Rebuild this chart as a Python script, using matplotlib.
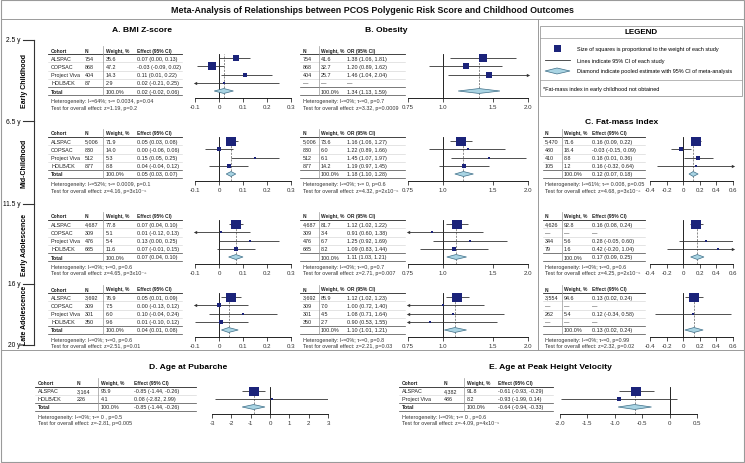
import matplotlib
matplotlib.use("Agg")
import matplotlib.pyplot as plt
import matplotlib.transforms as mtransforms
from matplotlib.patches import Rectangle, Polygon
from matplotlib.ticker import NullLocator
import numpy as np

plt.rcParams["font.family"] = ["Liberation Sans", "DejaVu Sans"]

W, H = 745, 464
ROW = 8.2
SQ = "#1b237a"
DIA_FC = "#a9d4e3"
DIA_EC = "#3f6f88"
TXT = "#222222"

# ---------------- data ----------------
cohorts = ["ALSPAC", "COPSAC", "Project Viva", "HOLBÆK"]
periods = ["Early Childhood", "Mid-Childhood", "Early Adolescence", "Late Adolescence"]
age_marks = ["2.5 y", "6.5 y", "11.5 y", "16 y", "20 y"]

# A. BMI z-score (rows = period, cols = cohort)
bmi_n = [["754", "868", "404", "87"],
         ["5,006", "830", "512", "877"],
         ["4,687", "309", "476", "685"],
         ["3,692", "309", "301", "350"]]
bmi_w = [[35.6, 47.2, 14.3, 2.9], [71.9, 14.0, 5.3, 8.8],
         [77.8, 5.1, 5.4, 11.6], [76.9, 7.5, 6.0, 9.6]]
bmi_est = [[0.07, -0.03, 0.11, 0.02], [0.05, 0.00, 0.15, 0.04],
           [0.07, 0.01, 0.13, 0.07], [0.05, 0.00, 0.10, 0.01]]
bmi_lo = [[0.00, -0.09, 0.01, -0.21], [0.03, -0.06, 0.05, -0.04],
          [0.04, -0.12, 0.00, -0.01], [0.01, -0.13, -0.04, -0.10]]
bmi_hi = [[0.13, 0.02, 0.22, 0.25], [0.08, 0.06, 0.25, 0.12],
          [0.10, 0.13, 0.25, 0.15], [0.09, 0.12, 0.24, 0.12]]
bmi_total = [[0.02, -0.02, 0.06], [0.05, 0.03, 0.07], [0.07, 0.04, 0.10], [0.04, 0.01, 0.08]]
bmi_het = ["Heterogeneity: I²=64%; τ²= 0.0034, p=0.04",
           "Heterogeneity: I²=52%; τ²= 0.0009, p=0.1",
           "Heterogeneity: I²=0%; τ²=0, p=0.6",
           "Heterogeneity: I²=0%; τ²=0, p=0.6"]
bmi_test = ["Test for overall effect: z=1.19, p=0.2",
            "Test for overall effect: z=4.16, p=3x10⁻⁵",
            "Test for overall effect: z=4.65, p=3x10⁻⁶",
            "Test for overall effect: z=2.51, p=0.01"]
bmi_ticks = [-0.1, 0, 0.1, 0.2, 0.3]
bmi_ticklabels = ["-0.1", "0", "0.1", "0.2", "0.3"]

# B. Obesity (odds ratios)
ob_n = [["754", "868", "404", None],
        ["5,006", "830", "512", "877"],
        ["4,687", "309", "476", "685"],
        ["3,692", "309", "301", "350"]]
ob_w = [[41.6, 32.7, 25.7, None], [73.6, 6.0, 6.1, 14.2],
        [81.7, 3.4, 6.7, 8.2], [85.9, 7.0, 4.5, 2.7]]
ob_est = [[1.38, 1.20, 1.46, None], [1.16, 1.22, 1.45, 1.19],
          [1.12, 0.91, 1.25, 1.09], [1.12, 1.00, 1.08, 0.90]]
ob_lo = [[1.06, 0.89, 1.04, None], [1.06, 0.89, 1.07, 0.97],
         [1.02, 0.60, 0.92, 0.83], [1.02, 0.72, 0.71, 0.53]]
ob_hi = [[1.81, 1.62, 2.04, None], [1.27, 1.66, 1.97, 1.45],
         [1.22, 1.38, 1.69, 1.44], [1.23, 1.40, 1.64, 1.55]]
ob_total = [[1.34, 1.13, 1.59], [1.18, 1.10, 1.28], [1.11, 1.03, 1.21], [1.10, 1.01, 1.21]]
ob_het = ["Heterogeneity: I²=0%; τ²=0, p=0.7",
          "Heterogeneity: I²=0%; τ²= 0, p=0.6",
          "Heterogeneity: I²=0%; τ²=0, p=0.7",
          "Heterogeneity: I²=0%; τ²=0, p=0.8"]
ob_test = ["Test for overall effect: z=3.32, p=0.0009",
           "Test for overall effect: z=4.32, p=2x10⁻⁵",
           "Test for overall effect: z=2.71, p=0.007",
           "Test for overall effect: z=2.21, p=0.03"]
ob_ticks = [0.75, 1.0, 1.5, 2.0]
ob_ticklabels = ["0.75", "1.0", "1.5", "2.0"]

# C. Fat-mass index (mid-childhood onwards)
fm_n = [["5,470", "480", "410", "105"],
        ["4,626", None, "344", "79"],
        ["3,554", None, "262", None]]
fm_w = [[71.6, 18.4, 8.8, 1.2], [92.8, None, 5.6, 1.6], [94.6, None, 5.4, None]]
fm_est = [[0.16, -0.03, 0.18, 0.16], [0.16, None, 0.28, 0.42], [0.13, None, 0.12, None]]
fm_lo = [[0.09, -0.15, 0.01, -0.32], [0.08, None, -0.05, -0.20], [0.02, None, -0.34, None]]
fm_hi = [[0.22, 0.09, 0.36, 0.64], [0.24, None, 0.60, 1.04], [0.24, None, 0.58, None]]
fm_total = [[0.12, 0.07, 0.18], [0.17, 0.09, 0.25], [0.13, 0.02, 0.24]]
fm_het = ["Heterogeneity: I²=61%; τ²= 0.008, p=0.05",
          "Heterogeneity: I²=0%; τ²=0, p=0.6",
          "Heterogeneity: I²=0%; τ²=0, p=0.99"]
fm_test = ["Test for overall effect: z=4.68, p=3x10⁻⁶",
           "Test for overall effect: z=4.25, p=2x10⁻⁵",
           "Test for overall effect: z=2.32, p=0.02"]
fm_ticks = [-0.4, -0.2, 0, 0.2, 0.4, 0.6]
fm_ticklabels = ["-0.4", "-0.2", "0", "0.2", "0.4", "0.6"]

# D. Age at pubarche
pub_cohorts = ["ALSPAC", "HOLBÆK"]
pub_n = ["3,164", "226"]
pub_w = [95.9, 4.1]
pub_est = [-0.85, 0.08]
pub_lo = [-1.44, -2.82]
pub_hi = [-0.26, 2.99]
pub_total = [-0.85, -1.44, -0.26]
pub_het = "Heterogeneity: I²=0%; τ²= 0 , p=0.5"
pub_test = "Test for overall effect: z=-2.81, p=0.005"
pub_ticks = [-3, -2, -1, 0, 1, 2, 3]
pub_ticklabels = ["-3", "-2", "-1", "0", "1", "2", "3"]

# E. Age at peak height velocity
phv_cohorts = ["ALSPAC", "Project Viva"]
phv_n = ["4,382", "486"]
phv_w = [91.8, 8.2]
phv_est = [-0.61, -0.93]
phv_lo = [-0.93, -1.99]
phv_hi = [-0.29, 0.14]
phv_total = [-0.64, -0.94, -0.33]
phv_het = "Heterogeneity: I²=0%; τ²= 0 , p=0.6"
phv_test = "Test for overall effect: z=-4.09, p=4x10⁻⁵"
phv_ticks = [-2.0, -1.5, -1.0, -0.5, 0, 0.5]
phv_ticklabels = ["-2.0", "-1.5", "-1.0", "-0.5", "0", "0.5"]


fig = plt.figure(figsize=(W / 100, H / 100), dpi=100)
bg = fig.add_axes([0, 0, 1, 1])
bg.set_xlim(0, W)
bg.set_ylim(H, 0)
bg.axis("off")


def px_axes(x0, x1, top, bottom):
    return fig.add_axes([x0 / W, 1 - bottom / H, (x1 - x0) / W, (bottom - top) / H])


def ci_text(e, l, h):
    return f"{e:.2f} ({l:.2f}, {h:.2f})"


def forest(x0, x1, total_y, xlim, ticks, ticklabels, null, est, lo, hi, wt, total, log=False):
    n = len(est)
    ax = px_axes(x0, x1, total_y - (n + 0.5) * ROW, total_y + 6.5)
    if log:
        ax.set_xscale("log")
    ax.set_xlim(xlim)
    ax.set_ylim(n + 1 + 6.5 / ROW, 0.5)
    ax.patch.set_alpha(0)
    for i in range(n):
        if est[i] is None:
            continue
        y = i + 1
        a, b = max(lo[i], xlim[0]), min(hi[i], xlim[1])
        ax.plot([a, b], [y, y], color="#333333", lw=0.6, solid_capstyle="butt")
        if lo[i] < xlim[0]:
            ax.plot(xlim[0], y, marker="<", ms=2.4, color="#333333", mew=0, clip_on=False)
        if hi[i] > xlim[1]:
            ax.plot(xlim[1], y, marker=">", ms=2.4, color="#333333", mew=0, clip_on=False)
        ax.plot(est[i], y, marker="s", ms=max(1.6, 0.8 * np.sqrt(wt[i])),
                color=SQ, mew=0, zorder=3)
    t, tl, th = total
    yd = n + 1
    ax.fill([tl, t, th, t], [yd, yd - 0.3, yd, yd + 0.3], fc=DIA_FC, ec=DIA_EC, lw=0.5, zorder=3)
    ax.axvline(null, color="black", lw=0.6, zorder=1)
    ax.axvline(t, color="#777777", lw=0.6, ls=(0, (2.5, 1.5)), zorder=1)
    for s in ("top", "right", "left"):
        ax.spines[s].set_visible(False)
    ax.spines["bottom"].set_bounds(ticks[0], ticks[-1])
    ax.spines["bottom"].set_linewidth(0.6)
    ax.set_xticks(ticks)
    ax.set_xticklabels(ticklabels)
    ax.xaxis.set_minor_locator(NullLocator())
    ax.set_yticks([])
    ax.tick_params(axis="x", length=3, width=0.6, labelsize=4.4, pad=1.5, colors="#333333")
    return ax


def table(ax, cols, header, rows, total_row, x0, x1, sep, het, test):
    n = len(rows)
    tr = mtransforms.blended_transform_factory(fig.transFigure, ax.transData)

    def put(x, y, s, bold=False, color=TXT, size=3.9):
        ax.text(x / W, y, s, transform=tr, fontsize=size, va="center", ha="left", color=color,
                fontweight="bold" if bold else "normal", clip_on=False)

    def hline(y, c, lw):
        ax.plot([x0 / W, x1 / W], [y, y], transform=tr, color=c, lw=lw, clip_on=False)

    for x, s in zip(cols, header):
        put(x, 0, s, bold=True, size=3.5)
    for i, row in enumerate(rows):
        for x, s in zip(cols, row):
            put(x, i + 1, s)
    for x, s in zip(cols, total_row):
        put(x, n + 1, s, bold=(s == "Total"))
    hline(0.5, "#222222", 0.6)
    for i in range(1, n):
        hline(i + 0.5, "#d0d0d0", 0.4)
    hline(n + 0.5, "#444444", 0.5)
    hline(n + 1.5, "#444444", 0.5)
    ax.plot([sep / W, sep / W], [-0.5, n + 1.5], transform=tr, color="#999999", lw=0.5, clip_on=False)
    put(cols[0], n + 1 + 9.5 / ROW, het, color="#333333")
    put(cols[0], n + 1 + 16 / ROW, test, color="#333333")


def study_rows(names, ns, ws, est, lo, hi):
    rows = []
    for i in range(len(ns)):
        if ns[i] is None:
            cells = ["—", "—", "—"]
        else:
            cells = [ns[i], f"{ws[i]:.1f}", ci_text(est[i], lo[i], hi[i])]
        rows.append(([names[i]] if names else []) + cells)
    return rows


# ---------------- frame, title, legend ----------------
SPLIT = 351
bg.add_patch(Rectangle((1, 1), W - 2.5, H - 2.5, fill=False, ec="#9a9a9a", lw=0.8))
bg.text(372, 10.5, "Meta-Analysis of Relationships between PCOS Polygenic Risk Score and Childhood Outcomes",
        ha="center", va="center", fontsize=6.4, fontweight="bold", color="#111111")
bg.plot([1, W - 1.5], [19.5, 19.5], color="#9a9a9a", lw=0.7)
bg.plot([538, 538], [19.5, SPLIT], color="#9a9a9a", lw=0.7)
bg.plot([1, W - 1.5], [SPLIT, SPLIT], color="#9a9a9a", lw=0.7)

bg.text(142, 30, "A. BMI Z-score", ha="center", va="center", fontsize=6.1, fontweight="bold")
bg.text(386, 30, "B. Obesity", ha="center", va="center", fontsize=6.1, fontweight="bold")
bg.text(622, 122, "C. Fat-mass Index", ha="center", va="center", fontsize=6.1, fontweight="bold")
bg.text(188, 368, "D. Age at Pubarche", ha="center", va="center", fontsize=6.1, fontweight="bold")
bg.text(550, 368, "E. Age at Peak Height Velocity", ha="center", va="center", fontsize=6.1, fontweight="bold")

bg.add_patch(Rectangle((540, 27), 202, 70, fill=False, ec="#9a9a9a", lw=0.6))
bg.text(641, 32.5, "LEGEND", ha="center", va="center", fontsize=5.8, fontweight="bold")
bg.plot([540, 742], [38.5, 38.5], color="#9a9a9a", lw=0.5)
bg.add_patch(Rectangle((554, 46), 7, 7, fc=SQ, ec="none"))
bg.text(577, 49.5, "Size of squares is proportional to the weight of each study", fontsize=4.0, va="center")
bg.plot([545, 570], [61, 61], color="#333333", lw=0.6)
bg.text(577, 61, "Lines indicate 95% CI of each study", fontsize=4.0, va="center")
bg.add_patch(Polygon([[545, 72], [557, 69], [570, 72], [557, 75]], fc=DIA_FC, ec=DIA_EC, lw=0.5))
bg.text(577, 72, "Diamond indicate pooled estimate with 95% CI of meta-analysis", fontsize=4.0, va="center")
bg.plot([540, 742], [81, 81], color="#9a9a9a", lw=0.5)
bg.text(543, 89, "*Fat-mass index in early childhood not obtained", fontsize=4.0, va="center")

# ---------------- age axis ----------------
age_y = [41, 122, 205, 285, 346]
bg.plot([34, 34], [age_y[0], age_y[-1]], color="#333333", lw=0.8)
for y, s in zip(age_y, age_marks):
    bg.plot([23, 34], [y, y], color="#333333", lw=0.8)
    bg.text(21, y, s, ha="right", va="center", fontsize=4.8)
for k, s in enumerate(periods):
    bg.text(24, (age_y[k] + age_y[k + 1]) / 2, s, rotation=90, ha="center", va="center",
            fontsize=5.0, fontweight="bold")

# ---------------- panels A, B, C ----------------
totals_y = [92, 175, 258, 331]
for k in range(4):
    ty = totals_y[k]
    ax = forest(195, 291, ty, (-0.1, 0.3), bmi_ticks, bmi_ticklabels, 0,
                bmi_est[k], bmi_lo[k], bmi_hi[k], bmi_w[k], bmi_total[k])
    table(ax, [51, 85, 106, 137], ["Cohort", "N", "Weight, %", "Effect (95% CI)"],
          study_rows(cohorts, bmi_n[k], bmi_w[k], bmi_est[k], bmi_lo[k], bmi_hi[k]),
          ["Total", "", "100.0%", ci_text(*bmi_total[k])],
          48, 182, 103, bmi_het[k], bmi_test[k])

    ax = forest(408, 528, ty, (0.75, 2.0), ob_ticks, ob_ticklabels, 1.0,
                ob_est[k], ob_lo[k], ob_hi[k], ob_w[k], ob_total[k], log=True)
    table(ax, [303, 321, 347], ["N", "Weight, %", "OR (95% CI)"],
          study_rows(None, ob_n[k], ob_w[k], ob_est[k], ob_lo[k], ob_hi[k]),
          ["", "100.0%", ci_text(*ob_total[k])],
          300, 405, 319, ob_het[k], ob_test[k])

    if k > 0:
        j = k - 1
        ax = forest(650, 733, ty, (-0.4, 0.6), fm_ticks, fm_ticklabels, 0,
                    fm_est[j], fm_lo[j], fm_hi[j], fm_w[j], fm_total[j])
        table(ax, [545, 564, 592], ["N", "Weight, %", "Effect (95% CI)"],
              study_rows(None, fm_n[j], fm_w[j], fm_est[j], fm_lo[j], fm_hi[j]),
              ["", "100.0%", ci_text(*fm_total[j])],
              543, 645, 562, fm_het[j], fm_test[j])

# ---------------- panels D, E ----------------
de_total = 408
ax = forest(212, 328, de_total, (-3, 3), pub_ticks, pub_ticklabels, 0,
            pub_est, pub_lo, pub_hi, pub_w, pub_total)
table(ax, [38, 77, 101, 134], ["Cohort", "N", "Weight, %", "Effect (95% CI)"],
      study_rows(pub_cohorts, pub_n, pub_w, pub_est, pub_lo, pub_hi),
      ["Total", "", "100.0%", ci_text(*pub_total)],
      35, 196, 98, pub_het, pub_test)

ax = forest(560, 697, de_total, (-2.0, 0.5), phv_ticks, phv_ticklabels, 0,
            phv_est, phv_lo, phv_hi, phv_w, phv_total)
table(ax, [402, 444, 467, 498], ["Cohort", "N", "Weight, %", "Effect (95% CI)"],
      study_rows(phv_cohorts, phv_n, phv_w, phv_est, phv_lo, phv_hi),
      ["Total", "", "100.0%", ci_text(*phv_total)],
      399, 553, 464, phv_het, phv_test)

fig.savefig("out.png", dpi=100)
